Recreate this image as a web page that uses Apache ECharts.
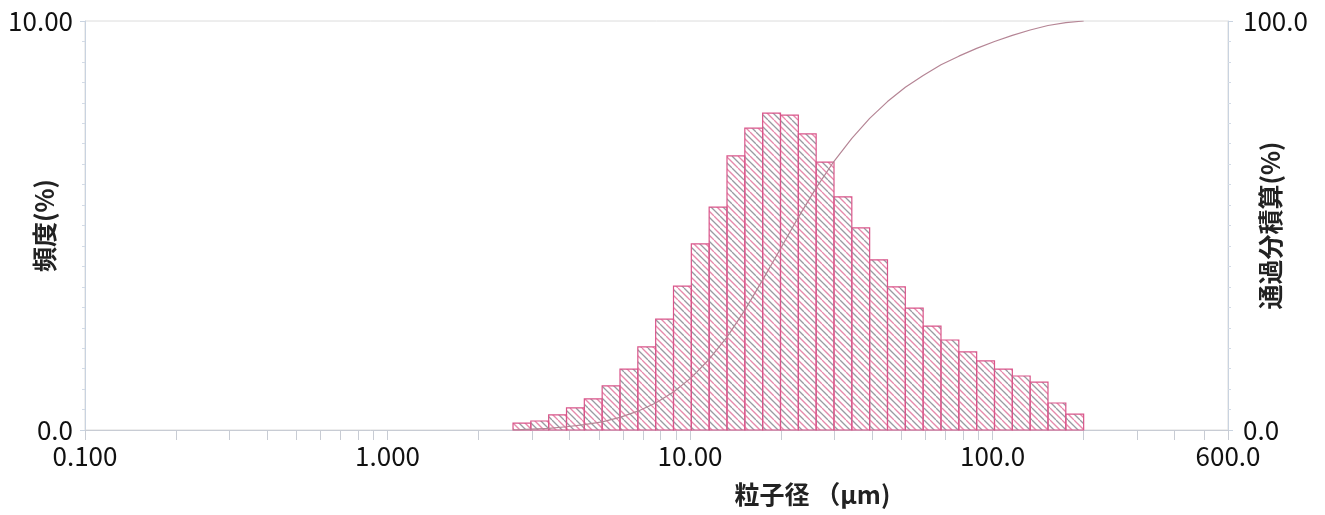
<!DOCTYPE html>
<html>
<head>
<meta charset="utf-8">
<script src="https://cdn.jsdelivr.net/npm/echarts@6/dist/echarts.min.js"></script>
<style>html,body{margin:0;padding:0;background:#fff;}#c{width:1325px;height:515px;}</style>
</head>
<body>
<div id="c"></div>
<script>
// Bin edges (µm), 33 edges -> 32 bins
const binEdges = [2.599, 2.976, 3.409, 3.905, 4.472, 5.122, 5.867, 6.720, 7.697, 8.816,
  10.097, 11.565, 13.246, 15.172, 17.377, 19.904, 22.797, 26.111, 29.907, 34.255,
  39.234, 44.938, 51.471, 58.953, 67.523, 77.339, 88.583, 101.46, 116.21, 133.10,
  152.45, 174.61, 200.00];
// Frequency (%) per bin
const frequency = [0.17, 0.22, 0.37, 0.54, 0.76, 1.08, 1.49, 2.03, 2.71, 3.52,
  4.55, 5.45, 6.70, 7.38, 7.75, 7.70, 7.24, 6.55, 5.70, 4.94,
  4.16, 3.50, 2.98, 2.54, 2.20, 1.91, 1.69, 1.49, 1.32, 1.17,
  0.66, 0.39];
// Cumulative passing (%) at each bin edge
const cumulative = [0, 0.2, 0.4, 0.8, 1.3, 2.0, 3.1, 4.6, 6.6, 9.3,
  12.8, 17.3, 22.7, 29.3, 36.7, 44.3, 52.0, 59.2, 65.7, 71.3,
  76.2, 80.3, 83.8, 86.7, 89.3, 91.4, 93.3, 95.0, 96.5, 97.8,
  98.9, 99.6, 100.0];
const xLabelValues = [0.1, 1, 10, 100, 600];
const xLabelTexts = ['0.100', '1.000', '10.00', '100.0', '600.0'];
const xTickValues = [0.1,0.2,0.3,0.4,0.5,0.6,0.7,0.8,0.9,1,2,3,4,5,6,7,8,9,10,20,30,40,50,60,70,80,90,100,200,300,400,500,600];

// hatch pattern
const pc = document.createElement('canvas');
const S = 12;
pc.width = S; pc.height = S;
const pctx = pc.getContext('2d');
pctx.lineWidth = 1.3;
function diag(off, col) {
  pctx.strokeStyle = col;
  for (const k of [-S, 0, S]) {
    pctx.beginPath();
    pctx.moveTo(off + k, 0);
    pctx.lineTo(off + k + S, S);
    pctx.stroke();
  }
}
diag(0, '#9a9aa2');
diag(S / 2, '#e58aac');

const barData = frequency.map((f, i) => [binEdges[i], binEdges[i + 1], f]);
const lineData = binEdges.map((e, i) => [e, cumulative[i]]);

const font = 'Noto Sans CJK JP';
const nameStyle = { fontFamily: font, fontSize: 25, fontWeight: 'bold', color: '#222' };
const chart = echarts.init(document.getElementById('c'));
chart.setOption({
  animation: false,
  grid: { left: 85, right: 97, top: 21, bottom: 85, outerBoundsMode: 'none', containLabel: false,
          show: true, borderColor: '#dcdcdc', borderWidth: 1 },
  xAxis: {
    type: 'log', min: 0.1, max: 600, logBase: 10,
    name: '粒子径 （μm)', nameLocation: 'middle', nameGap: 52, nameMoveOverlap: false,
    nameTextStyle: Object.assign({}, nameStyle, { padding: [0, 0, 0, 312] }),
    axisLine: { show: true, lineStyle: { color: '#c8ccd4' } },
    axisTick: { show: true, customValues: xTickValues, length: 10, lineStyle: { color: '#c8ccd4' } },
    minorTick: { show: false },
    splitLine: { show: false },
    axisLabel: {
      customValues: xLabelValues,
      margin: 13,
      fontFamily: font, fontSize: 26, color: '#111',
      formatter: v => { const i = xLabelValues.findIndex(x => Math.abs(x - v) / x < 1e-6); return i >= 0 ? xLabelTexts[i] : ''; }
    }
  },
  yAxis: [{
    type: 'value', min: 0, max: 10, interval: 10,
    name: '頻度(%)', nameLocation: 'middle', nameRotate: 90, nameGap: 28, nameMoveOverlap: false,
    nameTextStyle: nameStyle,
    axisLine: { show: true, lineStyle: { color: '#c9d3e0' } },
    axisTick: { show: true, length: 5, lineStyle: { color: '#c9d3e0' } },
    minorTick: { show: true, splitNumber: 20, length: 3, lineStyle: { color: '#d3dbe6' } },
    splitLine: { show: false },
    axisLabel: { margin: 12, fontFamily: font, fontSize: 26, color: '#111', formatter: v => v === 0 ? '0.0' : v.toFixed(2) }
  }, {
    type: 'value', min: 0, max: 100, interval: 100, position: 'right',
    name: '通過分積算(%)', nameLocation: 'middle', nameRotate: 90, nameGap: 30, nameMoveOverlap: false,
    nameTextStyle: nameStyle,
    axisLine: { show: true, lineStyle: { color: '#c9d3e0' } },
    axisTick: { show: true, length: 5, lineStyle: { color: '#c9d3e0' } },
    minorTick: { show: true, splitNumber: 20, length: 3, lineStyle: { color: '#d3dbe6' } },
    splitLine: { show: false },
    axisLabel: { margin: 15, fontFamily: font, fontSize: 26, color: '#111', formatter: v => v.toFixed(1) }
  }],
  series: [{
    type: 'custom',
    data: barData,
    encode: { x: [0, 1], y: 2 },
    renderItem: (params, api) => {
      const p0 = api.coord([api.value(0), api.value(2)]);
      const p1 = api.coord([api.value(1), 0]);
      return {
        type: 'rect',
        shape: { x: p0[0], y: p0[1], width: p1[0] - p0[0], height: p1[1] - p0[1] },
        style: { fill: { image: pc, repeat: 'repeat' }, stroke: '#d9558a', lineWidth: 1.2 }
      };
    },
    z: 2
  }, {
    type: 'line',
    yAxisIndex: 1,
    data: lineData,
    showSymbol: false,
    symbol: 'none',
    lineStyle: { color: '#b58595', width: 1.2 },
    z: 3
  }]
});
</script>
</body>
</html>
